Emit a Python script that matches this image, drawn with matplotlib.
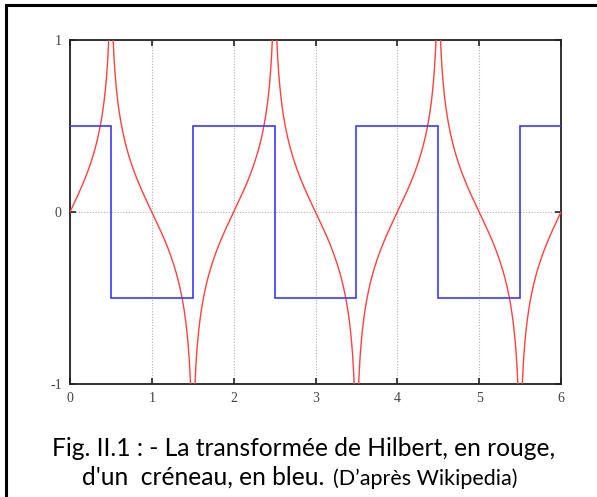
import numpy as np
import matplotlib
matplotlib.use("Agg")
import matplotlib.pyplot as plt
from matplotlib.patches import Rectangle

# Square wave (créneau): breakpoints and levels
breaks = [0, 0.5, 1.5, 2.5, 3.5, 4.5, 5.5, 6]
levels = [0.5, -0.5, 0.5, -0.5, 0.5, -0.5, 0.5]
period = 2.0
rise_edge = -0.5   # start of a high pulse
fall_edge = 0.5    # end of a high pulse

x_ticks = [0, 1, 2, 3, 4, 5, 6]
y_ticks = [-1, 0, 1]

caption_1 = "Fig. II.1 : - La transformée de Hilbert, en rouge,"
caption_2a = "d'un  créneau, en bleu."
caption_2b = "(D’après Wikipedia)"

W, H = 597, 497
fig = plt.figure(figsize=(W / 100, H / 100), dpi=100)

# outer frame of the figure box
fig.add_artist(Rectangle((6 / W, -0.05), 1.2, (H - 5) / H + 0.05,
                         transform=fig.transFigure, fill=False,
                         edgecolor="black", linewidth=2.2))

ax = fig.add_axes([70 / W, (H - 384) / H, (561 - 70) / W, (384 - 40) / H])

# Hilbert transform of the periodic square wave
amp = max(levels) - min(levels)
t = np.linspace(breaks[0], breaks[-1], 24001)
num = np.abs(np.sin(np.pi * (t - rise_edge) / period))
den = np.abs(np.sin(np.pi * (t - fall_edge) / period))
with np.errstate(divide="ignore"):
    hil = amp / np.pi * np.log(num / den)
hil = np.clip(np.nan_to_num(hil, posinf=5, neginf=-5), -5, 5)

ax.plot(t, hil, color="#ff4040", linewidth=1.0, zorder=3)
ax.stairs(levels, breaks, color="#3a3aff", linewidth=1.2, baseline=None, zorder=3)

ax.set_xlim(0, 6)
ax.set_ylim(-1, 1)
ax.set_xticks(x_ticks)
ax.set_yticks(y_ticks)
ax.set_xticklabels([str(v) for v in x_ticks])
ax.set_yticklabels([str(v) for v in y_ticks])

ax.grid(True, color="#b0b0b0", linestyle=(0, (1, 1.5)), linewidth=0.8)
ax.set_axisbelow(True)
for s in ax.spines.values():
    s.set_linewidth(1.3)
    s.set_color("#222222")
ax.tick_params(direction="in", length=4, width=1.2, top=True, right=True,
               colors="#222222", labelcolor="#444444", labelsize=10, pad=6)
for lab in ax.get_xticklabels() + ax.get_yticklabels():
    lab.set_family("Liberation Serif")

cap_font = "Lato"
fig.text(304 / W, 1 - 456 / H, caption_1, ha="center", va="baseline",
         fontsize=17.7, family=cap_font, color="black")
fig.text(82 / W, 1 - 485 / H, caption_2a, ha="left", va="baseline",
         fontsize=17.7, family=cap_font, color="black")
fig.text(333 / W, 1 - 485 / H, caption_2b, ha="left", va="baseline",
         fontsize=15.5, family=cap_font, color="black")

fig.savefig("out.png", dpi=100)
